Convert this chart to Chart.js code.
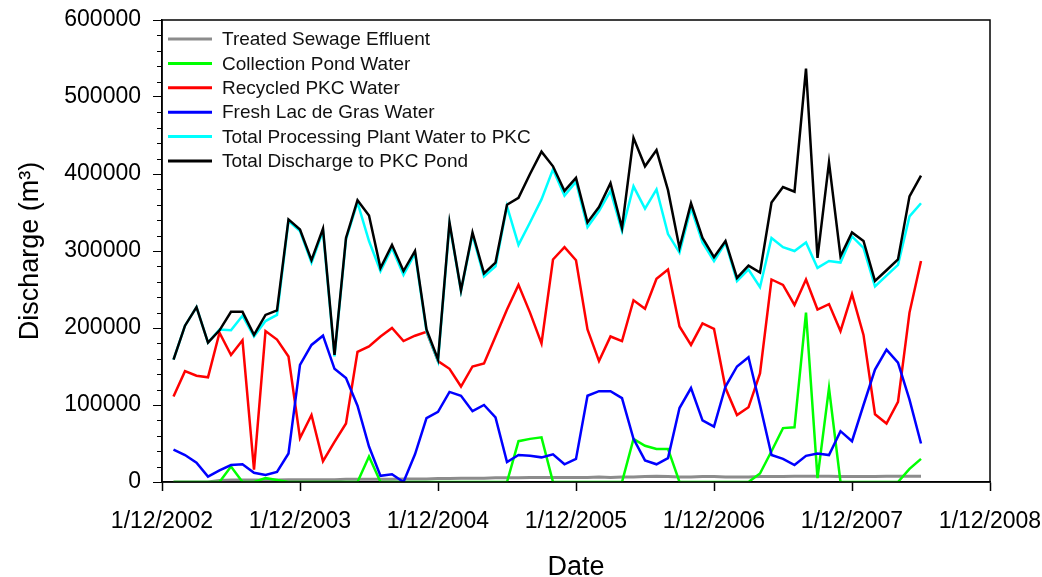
<!DOCTYPE html>
<html>
<head>
<meta charset="utf-8">
<script src="https://cdn.jsdelivr.net/npm/chart.js@4.4.1/dist/chart.umd.min.js"></script>
<style>
  html, body { margin: 0; padding: 0; background: #fff; }
</style>
</head>
<body>
<canvas id="graficoDescarga" width="1042" height="577"></canvas>
<script>
// x = months after 1/12/2002 (first value is Jan 2003)
const firstMonth = 1;
const yearTicks = ['1/12/2002', '1/12/2003', '1/12/2004', '1/12/2005', '1/12/2006', '1/12/2007', '1/12/2008'];
const seriesNames = [
  'Treated Sewage Effluent',
  'Collection Pond Water',
  'Recycled PKC Water',
  'Fresh Lac de Gras Water',
  'Total Processing Plant Water to PKC',
  'Total Discharge to PKC Pond'
];
const seriesColors = ['#8c8c8c', '#00ff00', '#ff0000', '#0000ff', '#00ffff', '#000000'];

const sewage = [
  0, 0, 0, 0, 2000, 2500, 2500, 2500, 2500, 2500,
  3000, 3000, 3000, 3000, 3000, 3500, 3500, 3500, 3500, 3500,
  4000, 4000, 4000, 4500, 4500, 5000, 5000, 5000, 5500, 5500,
  5500, 6000, 6000, 6000, 6000, 6000, 6000, 6500, 6000, 6500,
  6500, 7000, 7500, 7000, 6500, 6500, 7000, 7000, 6500, 6500,
  6500, 7000, 7000, 7000, 7500, 7500, 7500, 7500, 7000, 7000,
  7000, 7000, 7500, 7500, 7500, 7500
];
const pondWater = [
  0, 0, 0, 0, 0, 20000, 0, 0, 5000, 2500,
  0, 0, 0, 0, 0, 0, 0, 33000, 0, 0,
  0, 0, 0, 0, 0, 0, 0, 0, 0, 0,
  53000, 56000, 58000, 0, 0, 0, 0, 0, 0, 0,
  56000, 47000, 43000, 43000, 0, 0, 0, 0, 0, 0,
  0, 11000, 40000, 70000, 71000, 220000, 5000, 122000, 0, 0,
  0, 0, 0, 0, 17000, 30000
];
const recycled = [
  111000, 144000, 138000, 136000, 194000, 165000, 184000, 16000, 196000, 185000,
  163000, 57000, 87000, 27000, 52000, 76000, 169000, 176000, 189000, 200000,
  183000, 190000, 195000, 157000, 147000, 124000, 150000, 154000, 189000, 224000,
  256000, 220000, 180000, 289000, 305000, 288000, 198000, 157000, 189000, 183000,
  236000, 225000, 264000, 276000, 202000, 178000, 206000, 199000, 122000, 87000,
  97000, 141000, 263000, 256000, 230000, 263000, 224000, 231000, 196000, 244000,
  191000, 88000, 76000, 104000, 220000, 287000
];
const freshWater = [
  42000, 35000, 25000, 7000, 15000, 22000, 23000, 12000, 9000, 13000,
  37000, 152000, 178000, 190000, 147000, 135000, 99000, 46000, 8000, 10000,
  0, 36000, 83000, 91000, 117000, 112000, 92000, 100000, 84000, 26000,
  35000, 34000, 32000, 36000, 23000, 30000, 112000, 118000, 118000, 109000,
  56000, 28000, 23000, 31000, 96000, 122000, 80000, 72000, 124000, 150000,
  162000, 100000, 35000, 30000, 22000, 34000, 37000, 35000, 66000, 53000,
  100000, 146000, 172000, 155000, 107000, 50000
];
const plantTotal = [
  159000, 203000, 227000, 181000, 198000, 197000, 216000, 189000, 209000, 217000,
  339000, 326000, 285000, 326000, 163000, 315000, 363000, 313000, 274000, 304000,
  269000, 297000, 196000, 157000, 335000, 248000, 321000, 267000, 280000, 358000,
  308000, 337000, 367000, 406000, 372000, 390000, 331000, 352000, 378000, 326000,
  384000, 355000, 380000, 322000, 298000, 356000, 311000, 287000, 311000, 261000,
  276000, 253000, 317000, 305000, 300000, 311000, 278000, 287000, 285000, 319000,
  304000, 254000, 268000, 282000, 345000, 362000
];
const dischargeTotal = [
  159000, 203000, 227000, 181000, 197000, 221000, 221000, 191000, 217000, 223000,
  341000, 328000, 288000, 329000, 165000, 317000, 366000, 346000, 278000, 308000,
  274000, 300000, 198000, 159000, 337000, 249000, 324000, 271000, 285000, 360000,
  369000, 400000, 429000, 410000, 378000, 395000, 337000, 357000, 388000, 330000,
  447000, 410000, 431000, 379000, 304000, 362000, 317000, 292000, 313000, 265000,
  281000, 272000, 363000, 383000, 377000, 537000, 291000, 415000, 293000, 324000,
  313000, 261000, 275000, 289000, 371000, 398000
];
const allSeries = [sewage, pondWater, recycled, freshWater, plantTotal, dischargeTotal];

const yMax = 600000;
const yStep = 100000;
const yMinorStep = 20000;
const fonte = '"Liberation Sans", Arial, Helvetica, sans-serif';

function pontos(valores) {
  return valores.map((v, k) => ({ x: firstMonth + k, y: v }));
}

const datasets = allSeries.map((serie, i) => ({
  label: seriesNames[i],
  data: pontos(serie),
  borderColor: seriesColors[i],
  backgroundColor: seriesColors[i],
  borderWidth: i === 0 ? 3 : 2.5,
  pointRadius: 0,
  tension: 0,
  fill: false,
  order: allSeries.length - i
}));

// caixa em volta do grafico, ticks menores e legenda
const extras = {
  id: 'extras',
  afterDraw(chart) {
    const { ctx, chartArea: a } = chart;
    const y = chart.scales.y;
    ctx.save();
    ctx.strokeStyle = '#000';
    ctx.lineWidth = 1.5;
    ctx.strokeRect(a.left, a.top, a.right - a.left, a.bottom - a.top);

    ctx.lineWidth = 1;
    for (let v = 0; v <= yMax; v += yMinorStep) {
      if (v % yStep === 0) continue;
      const py = Math.round(y.getPixelForValue(v)) + 0.5;
      ctx.beginPath();
      ctx.moveTo(a.left - 5, py);
      ctx.lineTo(a.left, py);
      ctx.stroke();
    }

    ctx.font = '19px ' + fonte;
    ctx.textBaseline = 'middle';
    ctx.textAlign = 'left';
    seriesNames.forEach((nome, i) => {
      const ly = a.top + 19 + i * 24.4;
      ctx.strokeStyle = seriesColors[i];
      ctx.lineWidth = 3;
      ctx.beginPath();
      ctx.moveTo(a.left + 6, ly);
      ctx.lineTo(a.left + 50, ly);
      ctx.stroke();
      ctx.fillStyle = '#111';
      ctx.fillText(nome, a.left + 60, ly + 1);
    });
    ctx.restore();
  }
};

const ctx = document.getElementById('graficoDescarga').getContext('2d');
window.graficoDescarga = new Chart(ctx, {
  type: 'line',
  data: { datasets: datasets },
  plugins: [extras],
  options: {
    responsive: false,
    animation: false,
    devicePixelRatio: 1,
    layout: { padding: { top: 20, right: 52, left: 0, bottom: 0 } },
    plugins: { legend: { display: false }, tooltip: { enabled: false } },
    scales: {
      x: {
        type: 'linear',
        min: 0,
        max: 72,
        afterFit(scale) {
          scale.height = 95;
          scale.paddingLeft = 0;
          scale.paddingRight = 0;
        },
        ticks: {
          stepSize: 12,
          autoSkip: false,
          maxRotation: 0,
          padding: 17,
          color: '#000',
          font: { family: fonte, size: 23 },
          callback: (v) => yearTicks[v / 12]
        },
        grid: { drawOnChartArea: false, tickLength: 9, color: '#000', tickColor: '#000', tickWidth: 1.5 },
        border: { color: '#000', width: 1.5 },
        title: {
          display: true,
          text: 'Date',
          color: '#000',
          padding: 0,
          font: { family: fonte, size: 27, lineHeight: 0.667 }
        }
      },
      y: {
        min: 0,
        max: yMax,
        afterFit(scale) {
          scale.width = 162;
          scale.paddingTop = 0;
          scale.paddingBottom = 0;
        },
        ticks: {
          stepSize: yStep,
          padding: 12,
          color: '#000',
          font: { family: fonte, size: 23 },
          callback: (v) => String(v)
        },
        grid: { drawOnChartArea: false, tickLength: 9, color: '#000', tickColor: '#000', tickWidth: 1 },
        border: { color: '#000', width: 1.5 },
        title: {
          display: true,
          text: 'Discharge (m³)',
          color: '#000',
          padding: { top: 14, bottom: 0 },
          font: { family: fonte, size: 27, lineHeight: 1.2 }
        }
      }
    }
  }
});
</script>
</body>
</html>
